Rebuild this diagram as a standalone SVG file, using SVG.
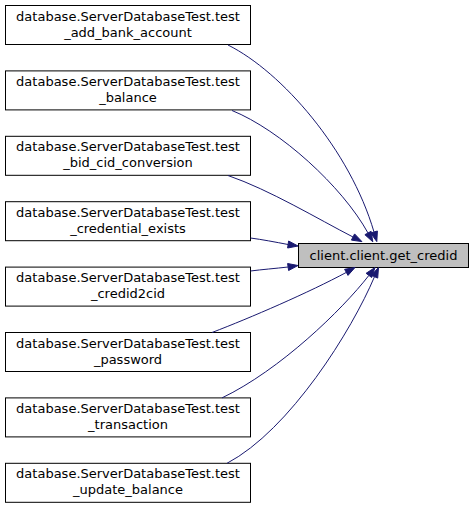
<svg xmlns="http://www.w3.org/2000/svg" width="475" height="509" viewBox="0 0 475 509">
<style>
.box{fill:#ffffff;stroke:#000000;stroke-width:1}
.tgt{fill:#bfbfbf;stroke:#000000;stroke-width:1}
.lbl{font-family:"DejaVu Sans",sans-serif;font-size:13px;fill:#000000;text-anchor:middle}
.edge{fill:none;stroke:#191970;stroke-width:1}
.ah{fill:#191970;stroke:#191970;stroke-width:1}
</style>
<rect width="475" height="509" fill="#ffffff"/>
<g id="node_target">
<rect class="tgt" x="298.5" y="243.5" width="170" height="24"/>
<text class="lbl" x="383.5" y="260">client.client.get_credid</text>
</g>
<g id="node1">
<rect class="box" x="5.5" y="5.5" width="245" height="39"/>
<text class="lbl" x="128" y="20.5">database.ServerDatabaseTest.test</text>
<text class="lbl" x="128" y="36.5">_add_bank_account</text>
</g>
<g id="node2">
<rect class="box" x="5.5" y="70.9" width="245" height="39"/>
<text class="lbl" x="128" y="85.9">database.ServerDatabaseTest.test</text>
<text class="lbl" x="128" y="101.9">_balance</text>
</g>
<g id="node3">
<rect class="box" x="5.5" y="136.3" width="245" height="39"/>
<text class="lbl" x="128" y="151.3">database.ServerDatabaseTest.test</text>
<text class="lbl" x="128" y="167.3">_bid_cid_conversion</text>
</g>
<g id="node4">
<rect class="box" x="5.5" y="201.7" width="245" height="39"/>
<text class="lbl" x="128" y="216.7">database.ServerDatabaseTest.test</text>
<text class="lbl" x="128" y="232.7">_credential_exists</text>
</g>
<g id="node5">
<rect class="box" x="5.5" y="267.1" width="245" height="39"/>
<text class="lbl" x="128" y="282.1">database.ServerDatabaseTest.test</text>
<text class="lbl" x="128" y="298.1">_credid2cid</text>
</g>
<g id="node6">
<rect class="box" x="5.5" y="332.5" width="245" height="39"/>
<text class="lbl" x="128" y="347.5">database.ServerDatabaseTest.test</text>
<text class="lbl" x="128" y="363.5">_password</text>
</g>
<g id="node7">
<rect class="box" x="5.5" y="397.9" width="245" height="39"/>
<text class="lbl" x="128" y="412.9">database.ServerDatabaseTest.test</text>
<text class="lbl" x="128" y="428.9">_transaction</text>
</g>
<g id="node8">
<rect class="box" x="5.5" y="463.3" width="245" height="39"/>
<text class="lbl" x="128" y="478.3">database.ServerDatabaseTest.test</text>
<text class="lbl" x="128" y="494.3">_update_balance</text>
</g>
<g id="edges">
<path class="edge" d="M228,45 C282,72 350,150 374,232"/>
<polygon class="ah" points="377.4,231 376.8,241.6 370.6,233"/>
<path class="edge" d="M232,110.5 C280,130 342,186 368,233"/>
<polygon class="ah" points="371.1,231.3 372.8,241.8 364.9,234.7"/>
<path class="edge" d="M228,175.5 C270,190 318,219 353,237"/>
<polygon class="ah" points="354.6,233.9 361.9,241.6 351.4,240.1"/>
<path class="edge" d="M250.5,238 C262,239.5 275,242 288.1,244.5"/>
<polygon class="ah" points="288.6,241 298,246 287.6,248"/>
<path class="edge" d="M250.5,271 C262,269.5 275,268.5 288.1,267"/>
<polygon class="ah" points="288.6,270.5 298,265.5 287.6,263.5"/>
<path class="edge" d="M212,332.5 C250,318 310,292 346.3,272.4"/>
<polygon class="ah" points="348,275.4 355,267.5 344.6,269.3"/>
<path class="edge" d="M222,397.9 C280,370 342,310 368.9,275.4"/>
<polygon class="ah" points="371.7,277.5 375,267.5 366.1,273.3"/>
<path class="edge" d="M227,463.3 C290,430 352,330 374.5,276.7"/>
<polygon class="ah" points="377.7,278.1 378.5,267.5 371.3,275.3"/>
</g>
</svg>
